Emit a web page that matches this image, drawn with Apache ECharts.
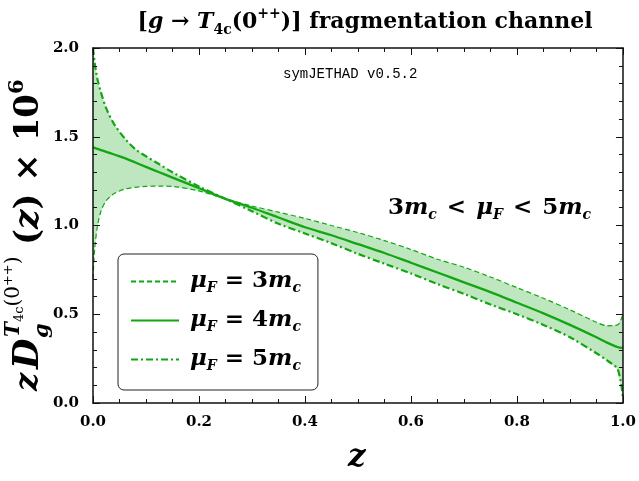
<!DOCTYPE html>
<html>
<head>
<meta charset="utf-8">
<title>T4c fragmentation</title>
<script src="https://cdn.jsdelivr.net/npm/echarts@6/dist/echarts.min.js"></script>
<style>
  html, body { margin: 0; padding: 0; background: #fff; }
</style>
</head>
<body>
<div id="main" style="width: 639px;height:481px;"></div>
<script type="text/javascript">
    // z grid and the three scale choices
    const zVals = [0, 0.003, 0.008, 0.015, 0.025, 0.04, 0.06, 0.08, 0.1, 0.125, 0.15, 0.2, 0.25, 0.3, 0.35, 0.4,
        0.45, 0.5, 0.55, 0.6, 0.65, 0.7, 0.75, 0.8, 0.85, 0.9, 0.95, 0.97, 0.99, 1.0];
    const mu3 = [0.70, 0.86, 0.99, 1.08, 1.14, 1.18, 1.205, 1.215, 1.22, 1.222, 1.22, 1.195, 1.15, 1.11, 1.075, 1.04,
        1.0, 0.96, 0.915, 0.865, 0.81, 0.765, 0.71, 0.65, 0.59, 0.525, 0.455, 0.435, 0.44, 0.50];
    const mu4 = [1.44, 1.437, 1.432, 1.425, 1.415, 1.40, 1.38, 1.355, 1.33, 1.30, 1.27, 1.21, 1.15, 1.10, 1.045, 0.99,
        0.945, 0.895, 0.845, 0.79, 0.735, 0.68, 0.625, 0.565, 0.505, 0.44, 0.37, 0.34, 0.315, 0.31];
    const mu5 = [2.0, 1.92, 1.83, 1.75, 1.66, 1.57, 1.49, 1.43, 1.39, 1.345, 1.30, 1.22, 1.15, 1.08, 1.01, 0.955,
        0.90, 0.84, 0.785, 0.73, 0.67, 0.615, 0.555, 0.50, 0.44, 0.37, 0.28, 0.24, 0.19, 0.03];
    const xTickStep = 0.2;
    const yTickStep = 0.5;

    const green = '#13a613';
    const bandColor = '#bfe7bf';
    const serif = '"DejaVu Serif", serif';

    const pair = (arr) => arr.map((v, i) => [zVals[i], v]);

    const it = (size) => ({fontFamily: serif, fontStyle: 'italic', fontWeight: 'bold', fontSize: size, color: '#000'});
    const rm = (size) => ({fontFamily: serif, fontWeight: 'bold', fontSize: size, color: '#000'});

    const legendNames = {
        mu3: '{i|μ}{s|F}{r| = 3}{i|m}{s|c}',
        mu4: '{i|μ}{s|F}{r| = 4}{i|m}{s|c}',
        mu5: '{i|μ}{s|F}{r| = 5}{i|m}{s|c}'
    };

    const myChart = echarts.init(document.getElementById('main'));

    const axisCommon = {
        type: 'value',
        z: 10,
        axisLine: {show: true, onZero: false, lineStyle: {color: '#111', width: 1.5}},
        axisTick: {show: true, inside: true, length: 7, lineStyle: {color: '#111', width: 1}},
        minorTick: {show: true, length: 4, lineStyle: {color: '#111', width: 1}},
        splitLine: {show: false},
        minorSplitLine: {show: false}
    };

    const option = {
        animation: false,
        backgroundColor: '#fff',
        title: {
            text: '{r|[}{i|g}{r| → }{i|T}{s|4c}{r|(0}{p|++}{r|)] fragmentation channel}',
            left: 360,
            top: 2,
            textAlign: 'center',
            textStyle: {
                rich: {
                    r: {fontFamily: serif, fontWeight: 'bold', fontSize: 22, color: '#000', lineHeight: 30},
                    i: {fontFamily: serif, fontStyle: 'italic', fontWeight: 'bold', fontSize: 22, color: '#000', lineHeight: 30},
                    s: {fontFamily: serif, fontWeight: 'bold', fontSize: 14, color: '#000', verticalAlign: 'bottom', lineHeight: 30},
                    p: {fontFamily: serif, fontWeight: 'bold', fontSize: 14, color: '#000', verticalAlign: 'top', lineHeight: 30}
                }
            }
        },
        grid: {left: 93, right: 15, top: 48, bottom: 78},
        legend: {
            left: 118,
            top: 254,
            orient: 'vertical',
            itemWidth: 48,
            itemHeight: 14,
            itemGap: 14,
            padding: [16, 17, 17, 12],
            backgroundColor: '#fff',
            borderColor: '#222',
            borderWidth: 1,
            borderRadius: 6,
            itemStyle: {opacity: 0},
            data: ['mu3', 'mu4', 'mu5'],
            formatter: (name) => legendNames[name],
            textStyle: {
                padding: [0, 0, 0, 6],
                rich: {
                    i: Object.assign(it(23), {lineHeight: 27}),
                    r: Object.assign(rm(23), {lineHeight: 27}),
                    s: Object.assign(it(14), {verticalAlign: 'bottom', lineHeight: 27})
                }
            }
        },
        xAxis: [
            Object.assign({}, axisCommon, {
                position: 'bottom', min: 0, max: 1, interval: xTickStep,
                minorTick: Object.assign({}, axisCommon.minorTick, {splitNumber: 4}),
                axisLabel: {margin: 12, fontFamily: serif, fontWeight: 'bold', fontSize: 15, color: '#000',
                    formatter: (v) => v.toFixed(1)}
            }),
            Object.assign({}, axisCommon, {
                position: 'top', min: 0, max: 1, interval: xTickStep,
                minorTick: Object.assign({}, axisCommon.minorTick, {splitNumber: 4}),
                axisLabel: {show: false}
            })
        ],
        yAxis: [
            Object.assign({}, axisCommon, {
                position: 'left', min: 0, max: 2, interval: yTickStep,
                minorTick: Object.assign({}, axisCommon.minorTick, {splitNumber: 5}),
                axisLabel: {margin: 14, fontFamily: serif, fontWeight: 'bold', fontSize: 15, color: '#000',
                    formatter: (v) => v.toFixed(1)}
            }),
            Object.assign({}, axisCommon, {
                position: 'right', min: 0, max: 2, interval: yTickStep,
                minorTick: Object.assign({}, axisCommon.minorTick, {splitNumber: 5}),
                axisLabel: {show: false}
            })
        ],
        series: [
            {
                // uncertainty band between the 3mc and 5mc curves
                name: 'band', type: 'custom', data: [0], silent: true, z: 1,
                renderItem: (params, api) => {
                    const upper = zVals.map((z, i) => api.coord([z, Math.max(mu3[i], mu5[i])]));
                    const lower = zVals.map((z, i) => api.coord([z, Math.min(mu3[i], mu5[i])])).reverse();
                    return {
                        type: 'polygon',
                        shape: {points: upper.concat(lower)},
                        style: {fill: bandColor}
                    };
                }
            },
            {
                name: 'mu3', type: 'line', data: pair(mu3), symbol: 'none', smooth: 0.3, z: 3,
                itemStyle: {color: green},
                lineStyle: {color: green, width: 1.2, type: [5, 3]}
            },
            {
                name: 'mu4', type: 'line', data: pair(mu4), symbol: 'none', smooth: 0.3, z: 3,
                itemStyle: {color: green},
                lineStyle: {color: green, width: 2.3, type: 'solid'}
            },
            {
                name: 'mu5', type: 'line', data: pair(mu5), symbol: 'none', smooth: 0.3, z: 3,
                itemStyle: {color: green},
                lineStyle: {color: green, width: 2.2, type: [7, 3, 2, 3]}
            }
        ],
        graphic: [
            {
                type: 'text', left: 283, top: 67,
                style: {text: 'symJETHAD v0.5.2', font: '14px "Liberation Mono", monospace', fill: '#000'}
            },
            {
                type: 'text', left: 388, top: 197,
                style: {
                    text: '{r|3}{i|m}{s|c}{o|<}{i|μ}{s|F}{o|<}{r|5}{i|m}{s|c}',
                    rich: {
                        r: Object.assign(rm(23), {lineHeight: 28}),
                        o: Object.assign(rm(23), {lineHeight: 28, padding: [0, 10, 0, 10]}),
                        i: Object.assign(it(23), {lineHeight: 28}),
                        s: Object.assign(it(14), {verticalAlign: 'bottom', lineHeight: 28})
                    }
                }
            },
            {
                type: 'text', left: 348, top: 442,
                style: {text: 'z', font: 'italic bold 31px "DejaVu Serif", serif', fill: '#000'}
            },
            {
                type: 'group', x: 29, y: 225, rotation: Math.PI / 2,
                children: [
                    {type: 'text', x: -166, y: 0, style: {text: 'z', font: 'italic bold 32px "DejaVu Serif", serif', fill: '#000', verticalAlign: 'middle'}},
                    {type: 'text', x: -144, y: 0, style: {text: 'D', font: 'italic bold 35px "DejaVu Serif", serif', fill: '#000', verticalAlign: 'middle'}},
                    {type: 'text', x: -113, y: 14, style: {text: 'g', font: 'italic bold 21px "DejaVu Serif", serif', fill: '#000', verticalAlign: 'middle'}},
                    {
                        type: 'text', x: -112, y: -15,
                        style: {
                            text: '{i|T}{s|4c}{r|(0}{p|++}{r|)}',
                            verticalAlign: 'middle',
                            rich: {
                                i: Object.assign(it(20), {lineHeight: 24}),
                                r: Object.assign(rm(20), {fontWeight: 'normal', lineHeight: 24}),
                                s: Object.assign(rm(13), {fontWeight: 'normal', verticalAlign: 'bottom', lineHeight: 24}),
                                p: Object.assign(rm(13), {fontWeight: 'normal', verticalAlign: 'top', lineHeight: 24})
                            }
                        }
                    },
                    {
                        type: 'text', x: -20, y: 0,
                        style: {
                            text: '{r|(}{i|z}{r|) × 10}{p|6}',
                            verticalAlign: 'middle',
                            rich: {
                                i: Object.assign(it(34), {lineHeight: 44}),
                                r: Object.assign(rm(34), {lineHeight: 44}),
                                p: Object.assign(rm(21), {verticalAlign: 'top', lineHeight: 44})
                            }
                        }
                    }
                ]
            }
        ]
    };

    myChart.setOption(option);
</script>
</body>
</html>
